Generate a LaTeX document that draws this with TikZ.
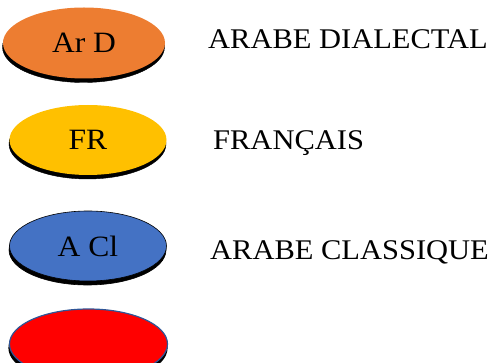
\documentclass[tikz,border=0pt]{standalone}
\usepackage{fontspec}
\setmainfont[FakeStretch=1.07]{Liberation Serif}
\usetikzlibrary{shapes.geometric,shadows}
\definecolor{cOrange}{HTML}{ED7D31}
\definecolor{cYellow}{HTML}{FFC000}
\definecolor{cBlue}{HTML}{4472C4}
\definecolor{cRed}{HTML}{FF0000}
\definecolor{cEdge}{HTML}{2F5597}
\begin{document}
\begin{tikzpicture}[x=1pt,y=-1pt,
  disc/.style={ellipse, inner sep=0pt, minimum width=157pt, minimum height=70pt,
    font=\fontsize{29.5}{30}\selectfont,
    copy shadow={shadow xshift=-0.5pt, shadow yshift=-4pt, fill=black, draw=black}},
  lab/.style={anchor=base west, inner sep=0pt, font=\fontsize{28.5}{30}\selectfont}]
\useasboundingbox (0,0) rectangle (503,363);
\node[disc, fill=cOrange, minimum width=162pt, minimum height=71pt] (ard) at (84,43) {Ar D};
\node[disc, fill=cYellow] (fr) at (88,140) {FR};
\node[disc, fill=cBlue, draw=black, line width=0.6pt] (acl) at (88,246) {A Cl};
\node[disc, fill=cRed, draw=cEdge, line width=1.2pt, minimum width=158pt, copy shadow={shadow yshift=0pt, opacity=0}] (red) at (88.5,344) {};
\node[lab] (t1) at (208,49) {ARABE DIALECTAL};
\node[lab] (t2) at (213,150) {FRANÇAIS};
\node[lab] (t3) at (210,259) {ARABE CLASSIQUE};
\end{tikzpicture}
\end{document}
